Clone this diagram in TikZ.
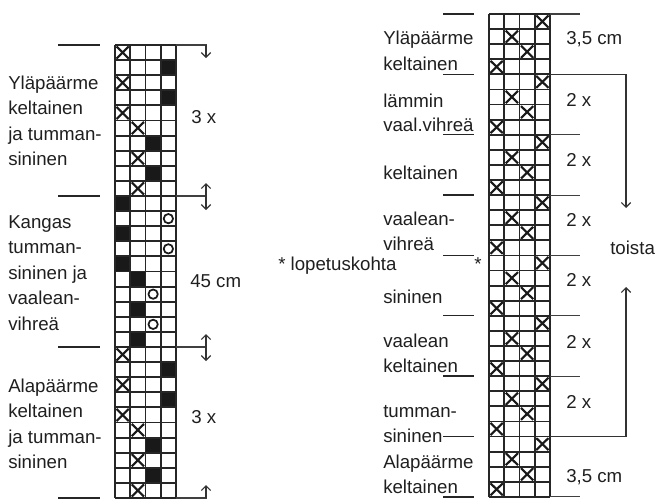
\documentclass[tikz,border=0pt]{standalone}
\usepackage{fontspec}
\setmainfont{Liberation Sans}
\usetikzlibrary{arrows.meta}
\begin{document}
\begin{tikzpicture}[x=0.75pt,y=-0.75pt,
  lbl/.style={anchor=base west,inner sep=0pt,font=\fontsize{14}{16}\selectfont,text=black!88},
  gline/.style={line width=1.4pt,draw=black!85},
  xm/.style={line width=1.6pt,draw=black!90},
  ring/.style={line width=1.3pt,draw=black!90},
  lrule/.style={line width=1pt,draw=black!85},
  rrule/.style={line width=0.8pt,draw=black!75},
  darr/.style={line width=0.8pt,draw=black!80,-{Straight Barb[length=3.5pt,width=7pt]}}]
\useasboundingbox (0,0) rectangle (658,500);
% ---------------- left grid ----------------
\def\LX{115}\def\LW{15.25}\def\LY{45}\def\LH{15.1}
\foreach \r/\c in {2/4,4/4,7/3,9/3,11/1,13/1,15/1,16/2,18/2,20/2,22/4,24/4,27/3,29/3}
  \fill[black!90] ({\LX+(\c-1)*\LW},{\LY+(\r-1)*\LH}) rectangle ++(\LW,\LH);
\foreach \r/\c in {1/1,3/1,5/1,6/2,8/2,10/2,21/1,23/1,25/1,26/2,28/2,30/2}
  \draw[xm] ({\LX+(\c-1)*\LW+1.5},{\LY+(\r-1)*\LH+1.5}) -- ++({\LW-3},{\LH-3})
            ({\LX+\c*\LW-1.5},{\LY+(\r-1)*\LH+1.5}) -- ++({-\LW+3},{\LH-3});
\foreach \r/\c in {12/4,14/4,17/3,19/3}
  \draw[ring] ({\LX+(\c-0.5)*\LW},{\LY+(\r-0.5)*\LH}) circle[radius=3.5pt];
\foreach \c in {0,...,4}
  \draw[gline] ({\LX+\c*\LW},\LY) -- ({\LX+\c*\LW},{\LY+30*\LH});
\foreach \r in {0,...,30}
  \draw[gline] (\LX,{\LY+\r*\LH}) -- ({\LX+4*\LW},{\LY+\r*\LH});
% section rules right of left grid + dimension arrows
\foreach \k/\y in {0/45,1/196,2/347,3/498}{
  \coordinate (g\k) at (176,\y);
  \coordinate (e\k) at (207,\y);
  \draw[rrule] (g\k) -- (e\k);
  \draw[lrule] (58,\y) -- (100,\y);
}
\coordinate (a0) at (206,45);  \coordinate (a0d) at (206,58);
\coordinate (a1) at (206,196); \coordinate (a1u) at (206,183); \coordinate (a1d) at (206,210);
\coordinate (a2) at (206,347); \coordinate (a2u) at (206,334); \coordinate (a2d) at (206,361);
\coordinate (a3) at (206,498); \coordinate (a3u) at (206,485);
\draw[darr] (a0) -- (a0d);
\draw[darr] (a1) -- (a1u); \draw[darr] (a1) -- (a1d);
\draw[darr] (a2) -- (a2u); \draw[darr] (a2) -- (a2d);
\draw[darr] (a3) -- (a3u);
\node[lbl] (m1) at (191,123.5) {3 x};
\node[lbl] (m2) at (190,287) {45 cm};
\node[lbl] (m3) at (191,423.5) {3 x};
% left labels
\node[lbl] (t1) at (8,89) {Yläpäärme};
\node[lbl] (t2) at (8,114) {keltainen};
\node[lbl] (t3) at (8,140) {ja tumman-};
\node[lbl] (t4) at (8,165) {sininen};
\node[lbl] (t5) at (8,228) {Kangas};
\node[lbl] (t6) at (8,253) {tumman-};
\node[lbl] (t7) at (8,279) {sininen ja};
\node[lbl] (t8) at (8,304) {vaalean-};
\node[lbl] (t9) at (8,330) {vihreä};
\node[lbl] (t10) at (8,392) {Alapäärme};
\node[lbl] (t11) at (8,417) {keltainen};
\node[lbl] (t12) at (8,443) {ja tumman-};
\node[lbl] (t13) at (8,468) {sininen};
% ---------------- right grid ----------------
\def\RX{489}\def\RW{15.25}\def\RY{14}\def\RH{15.09}
\foreach \b in {0,...,7}{
  \foreach \i/\c in {1/4,2/2,3/3,4/1}{
    \pgfmathsetmacro\rr{\b*4+\i}
    \draw[xm] ({\RX+(\c-1)*\RW+1.5},{\RY+(\rr-1)*\RH+1.5}) -- ++({\RW-3},{\RH-3})
              ({\RX+\c*\RW-1.5},{\RY+(\rr-1)*\RH+1.5}) -- ++({-\RW+3},{\RH-3});
  }
}
\foreach \c in {0,...,4}
  \draw[gline] ({\RX+\c*\RW},\RY) -- ({\RX+\c*\RW},{\RY+32*\RH});
\foreach \r in {0,...,32}
  \draw[gline] (\RX,{\RY+\r*\RH}) -- ({\RX+4*\RW},{\RY+\r*\RH});
\foreach \k in {0,...,8}{
  \pgfmathsetmacro\yy{\RY+\k*4*\RH}
  \draw[lrule] (443,\yy) -- (474,\yy);
}
\foreach \k in {0,2,3,4,5,6,8}{
  \pgfmathsetmacro\yy{\RY+\k*4*\RH}
  \draw[rrule] (550,\yy) -- (580,\yy);
}
\coordinate (r1) at (550,74.4);  \coordinate (r1c) at (626,74.4);  \coordinate (r1e) at (626,208);
\coordinate (r7) at (550,436.5); \coordinate (r7c) at (626,436.5); \coordinate (r7e) at (626,287);
\draw[darr] (r1) -- (r1c) -- (r1e);
\draw[darr] (r7) -- (r7c) -- (r7e);
\node[lbl] (toista) at (610,254.5) {toista};
\node[lbl] (s1) at (566,44.5) {3,5 cm};
\node[lbl] (s2) at (566,106.5) {2 x};
\node[lbl] (s3) at (566,166.5) {2 x};
\node[lbl] (s4) at (566,226.5) {2 x};
\node[lbl] (s5) at (566,286.5) {2 x};
\node[lbl] (s6) at (566,348.5) {2 x};
\node[lbl] (s7) at (566,408.5) {2 x};
\node[lbl] (s8) at (566,482.5) {3,5 cm};
% right-grid left labels
\node[lbl] (u1) at (383,44) {Yläpäärme};
\node[lbl] (u2) at (383,70) {keltainen};
\node[lbl] (u3) at (383,107) {lämmin};
\node[lbl] (u4) at (383,131) {vaal.vihreä};
\node[lbl] (u5) at (383,179) {keltainen};
\node[lbl] (u6) at (383,225) {vaalean-};
\node[lbl] (u7) at (383,250) {vihreä};
\node[lbl] (u8) at (383,303) {sininen};
\node[lbl] (u9) at (383,347) {vaalean};
\node[lbl] (u10) at (383,372) {keltainen};
\node[lbl] (u11) at (383,417) {tumman-};
\node[lbl] (u12) at (383,442) {sininen};
\node[lbl] (u13) at (383,468) {Alapäärme};
\node[lbl] (u14) at (383,493) {keltainen};
\node[lbl] (star) at (474,270) {*};
\node[lbl] (lop) at (278,270) {* lopetuskohta};
\end{tikzpicture}
\end{document}
